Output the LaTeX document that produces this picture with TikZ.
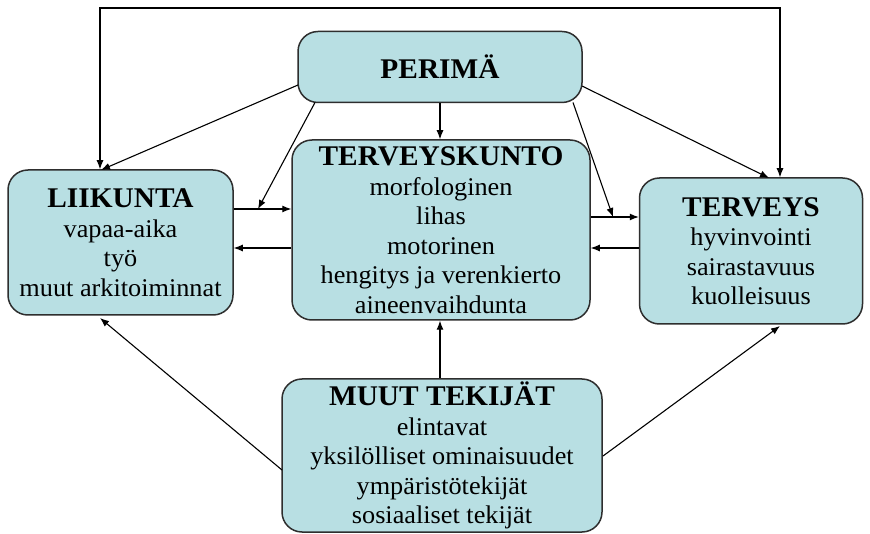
\documentclass[tikz,border=0pt]{standalone}
\usepackage{fontspec}
\setmainfont[FakeStretch=1.03]{Liberation Serif}
\usetikzlibrary{arrows.meta}
\definecolor{boxfill}{HTML}{B8DFE3}
\definecolor{boxline}{HTML}{2E2E2E}
\tikzset{
  box/.style={draw=boxline, line width=1.5pt, fill=boxfill, rounded corners=20pt,
    align=center, inner sep=0pt, font=\fontsize{25.5}{29.5}\selectfont},
  arr/.style={line width=1.1pt, -{Latex[length=9pt,width=7pt]}},
  barr/.style={line width=1.1pt, {Latex[length=9pt,width=7pt]}-{Latex[length=9pt,width=7pt]}}
}
\newcommand{\ttl}[1]{{\fontsize{28.5}{29.5}\selectfont\bfseries #1}}
\begin{document}
\begin{tikzpicture}[x=1pt,y=-1pt]
\useasboundingbox (0,0) rectangle (870,534);
\fill[white] (0,0) rectangle (870,534);

\node[box, minimum width=284pt, minimum height=71pt] (P) at (440,67) {\ttl{PERIMÄ}};
\node[box, minimum width=225pt, minimum height=145pt] (L) at (120.5,242.5)
  {\ttl{LIIKUNTA}\\vapaa-aika\\työ\\muut arkitoiminnat};
\node[box, minimum width=298pt, minimum height=180pt] (K) at (441,230)
  {\ttl{TERVEYSKUNTO}\\morfologinen\\lihas\\motorinen\\hengitys ja verenkierto\\aineenvaihdunta};
\node[box, minimum width=223pt, minimum height=146pt] (T) at (751,251)
  {\ttl{TERVEYS}\\hyvinvointi\\sairastavuus\\kuolleisuus};
\node[box, minimum width=320pt, minimum height=153pt] (M) at (442,455.5)
  {\ttl{MUUT TEKIJÄT}\\elintavat\\yksilölliset ominaisuudet\\ympäristötekijät\\sosiaaliset tekijät};

% reference coordinates
\coordinate (ftl) at (100,8);
\coordinate (ftr) at (780,8);
\coordinate (y209) at (0,209);
\coordinate (y217) at (0,217);
\coordinate (y248) at (0,248);
\coordinate (xc) at (440,0);
\coordinate (lk) at (258,209);
\coordinate (kt) at (613,217);
\coordinate (pl) at (298,85);
\coordinate (pr) at (582,86);
\coordinate (pbl) at (315,102.5);
\coordinate (pbr) at (573,102.5);
\coordinate (ltop) at (101,170);
\coordinate (ttop) at (769,178);
\coordinate (ml) at (282,470);
\coordinate (mr) at (603,456);
\coordinate (lbot) at (100,318);
\coordinate (tbot) at (780,326);

% top frame connector
\draw[barr] (ftl |- L.north) -- (ftl) -- (ftr) -- (ftr |- T.north);

% PERIMÄ arrows
\draw[arr] (pl) -- (ltop);
\draw[arr] (pr) -- (ttop);
\draw[arr] (P.south -| xc) -- (K.north -| xc);
\draw[arr] (pbl) -- (lk);
\draw[arr] (pbr) -- (kt);

% arrows between L, K, T
\draw[arr] (L.east |- y209) -- (K.west |- y209);
\draw[arr] (K.west |- y248) -- (L.east |- y248);
\draw[arr] (K.east |- y217) -- (T.west |- y217);
\draw[arr] (T.west |- y248) -- (K.east |- y248);

% MUUT arrows
\draw[arr] (M.north -| xc) -- (K.south -| xc);
\draw[arr] (ml) -- (lbot);
\draw[arr] (mr) -- (tbot);
\end{tikzpicture}
\end{document}
